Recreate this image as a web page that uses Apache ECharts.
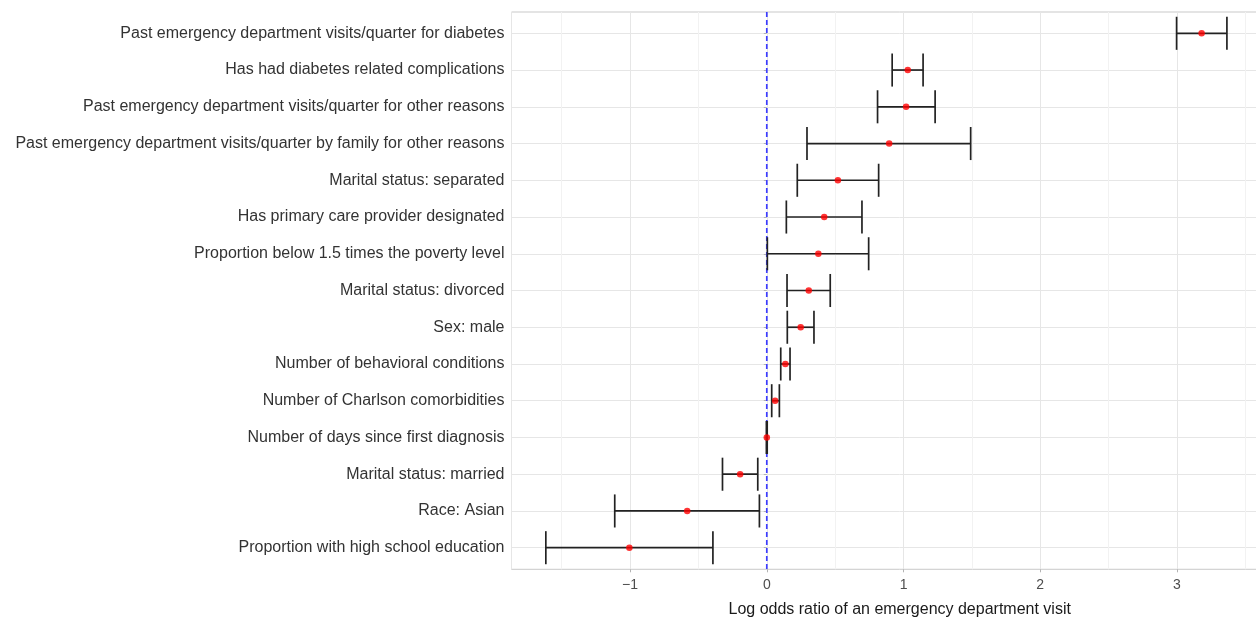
<!DOCTYPE html>
<html>
<head>
<meta charset="utf-8">
<script src="https://cdn.jsdelivr.net/npm/echarts@6/dist/echarts.min.js"></script>
<style>
html,body{margin:0;padding:0;background:#fff;overflow:hidden;width:1256px;height:619px;}
#chart{width:1300px;height:619px;}
</style>
</head>
<body>
<div id="chart"></div>
<script>
// ---- data (top to bottom) ----
const categories = [
  "Past emergency department visits/quarter for diabetes",
  "Has had diabetes related complications",
  "Past emergency department visits/quarter for other reasons",
  "Past emergency department visits/quarter by family for other reasons",
  "Marital status: separated",
  "Has primary care provider designated",
  "Proportion below 1.5 times the poverty level",
  "Marital status: divorced",
  "Sex: male",
  "Number of behavioral conditions",
  "Number of Charlson comorbidities",
  "Number of days since first diagnosis",
  "Marital status: married",
  "Race: Asian",
  "Proportion with high school education"
];
const estimates = [3.18, 1.031, 1.019, 0.895, 0.520, 0.420, 0.377, 0.307, 0.248, 0.136, 0.061, 0.0, -0.195, -0.582, -1.005];
const lowerCI   = [2.997, 0.917, 0.810, 0.294, 0.223, 0.143, 0.004, 0.148, 0.150, 0.102, 0.036, -0.003, -0.324, -1.112, -1.616];
const upperCI   = [3.365, 1.143, 1.231, 1.491, 0.818, 0.696, 0.745, 0.464, 0.345, 0.170, 0.092, 0.003, -0.066, -0.054, -0.394];
const referenceLine = [0];
const xTitle = "Log odds ratio of an emergency department visit";

const xMin = -1.867, xMax = 3.811;
const FONT = "'Liberation Sans', Arial, Helvetica, sans-serif";

const errData = categories.map((c, i) => [lowerCI[i], upperCI[i], i]);
const ptData = categories.map((c, i) => [estimates[i], i]);

const chart = echarts.init(document.getElementById('chart'), null, {renderer: 'canvas'});
const panelLeft = 511.5, panelTop = 12, panelBottom = 569.3, panelWidth = 776.4;
const rowTop = 33.3, rowBottom = 547.7;

chart.setOption({
  animation: false,
  backgroundColor: '#ffffff',
  textStyle: {fontFamily: FONT},
  grid: [
    {left: panelLeft, top: panelTop, width: panelWidth, height: panelBottom - panelTop,
     outerBoundsMode: 'none', containLabel: false,
     show: true, borderColor: '#c9c9c9', borderWidth: 1, backgroundColor: 'transparent'},
    {left: panelLeft, top: rowTop, width: panelWidth, height: rowBottom - rowTop,
     outerBoundsMode: 'none', containLabel: false, show: false}
  ],
  xAxis: [
    {
      type: 'value', gridIndex: 0, min: xMin, max: xMax, splitNumber: 5,
      axisLine: {show: false},
      axisTick: {show: true, length: 3, lineStyle: {color: '#b3b3b3', width: 1}},
      axisLabel: {
        show: true, showMinLabel: false, showMaxLabel: false, margin: 9,
        color: '#4d4d4d', fontSize: 14, fontFamily: FONT,
        formatter: v => (v < 0 ? '\u2212' + Math.abs(v) : String(v))
      },
      splitLine: {show: true, lineStyle: {color: '#e6e6e6', width: 1}},
      minorTick: {show: false, splitNumber: 2},
      minorSplitLine: {show: true, lineStyle: {color: '#f2f2f2', width: 1}},
      name: xTitle, nameLocation: 'middle', nameGap: 32,
      nameTextStyle: {color: '#1a1a1a', fontSize: 16, fontFamily: FONT}
    },
    {type: 'value', gridIndex: 1, min: xMin, max: xMax, show: false, splitLine: {show: false}}
  ],
  yAxis: [
    {type: 'value', gridIndex: 0, min: 0, max: 1, show: false, splitLine: {show: false}},
    {
      type: 'category', gridIndex: 1, data: categories, inverse: true, boundaryGap: false,
      axisLine: {show: false},
      axisTick: {show: true, length: 3, lineStyle: {color: '#b3b3b3', width: 1}},
      axisLabel: {show: true, margin: 7, color: '#333333', fontSize: 16, fontFamily: FONT, interval: 0},
      splitLine: {show: true, interval: 0, lineStyle: {color: '#e6e6e6', width: 1}}
    }
  ],
  series: [
    {
      type: 'custom', xAxisIndex: 0, yAxisIndex: 0, z: 1,
      data: referenceLine.map(v => [v]),
      encode: {x: 0},
      renderItem: function (params, api) {
        const cs = params.coordSys;
        const x = api.coord([api.value(0), 0])[0];
        return {
          type: 'line',
          shape: {x1: x, y1: cs.y, x2: x, y2: cs.y + cs.height},
          style: {stroke: '#3d3dff', lineWidth: 1.7, lineDash: [5, 3]}
        };
      }
    },
    {
      type: 'custom', xAxisIndex: 1, yAxisIndex: 1, z: 2,
      data: errData,
      encode: {x: [0, 1], y: 2},
      renderItem: function (params, api) {
        const idx = api.value(2);
        const p1 = api.coord([api.value(0), idx]);
        const p2 = api.coord([api.value(1), idx]);
        const h = api.size([0, 1])[1] * 0.45;
        const st = {stroke: '#222222', lineWidth: 1.7};
        return {
          type: 'group',
          children: [
            {type: 'line', shape: {x1: p1[0], y1: p1[1], x2: p2[0], y2: p2[1]}, style: st},
            {type: 'line', shape: {x1: p1[0], y1: p1[1] - h, x2: p1[0], y2: p1[1] + h}, style: st},
            {type: 'line', shape: {x1: p2[0], y1: p2[1] - h, x2: p2[0], y2: p2[1] + h}, style: st}
          ]
        };
      }
    },
    {
      type: 'scatter', xAxisIndex: 1, yAxisIndex: 1, z: 3,
      data: ptData, symbol: 'circle', symbolSize: 6.5,
      itemStyle: {color: '#ff0000'}
    }
  ]
});
</script>
</body>
</html>
